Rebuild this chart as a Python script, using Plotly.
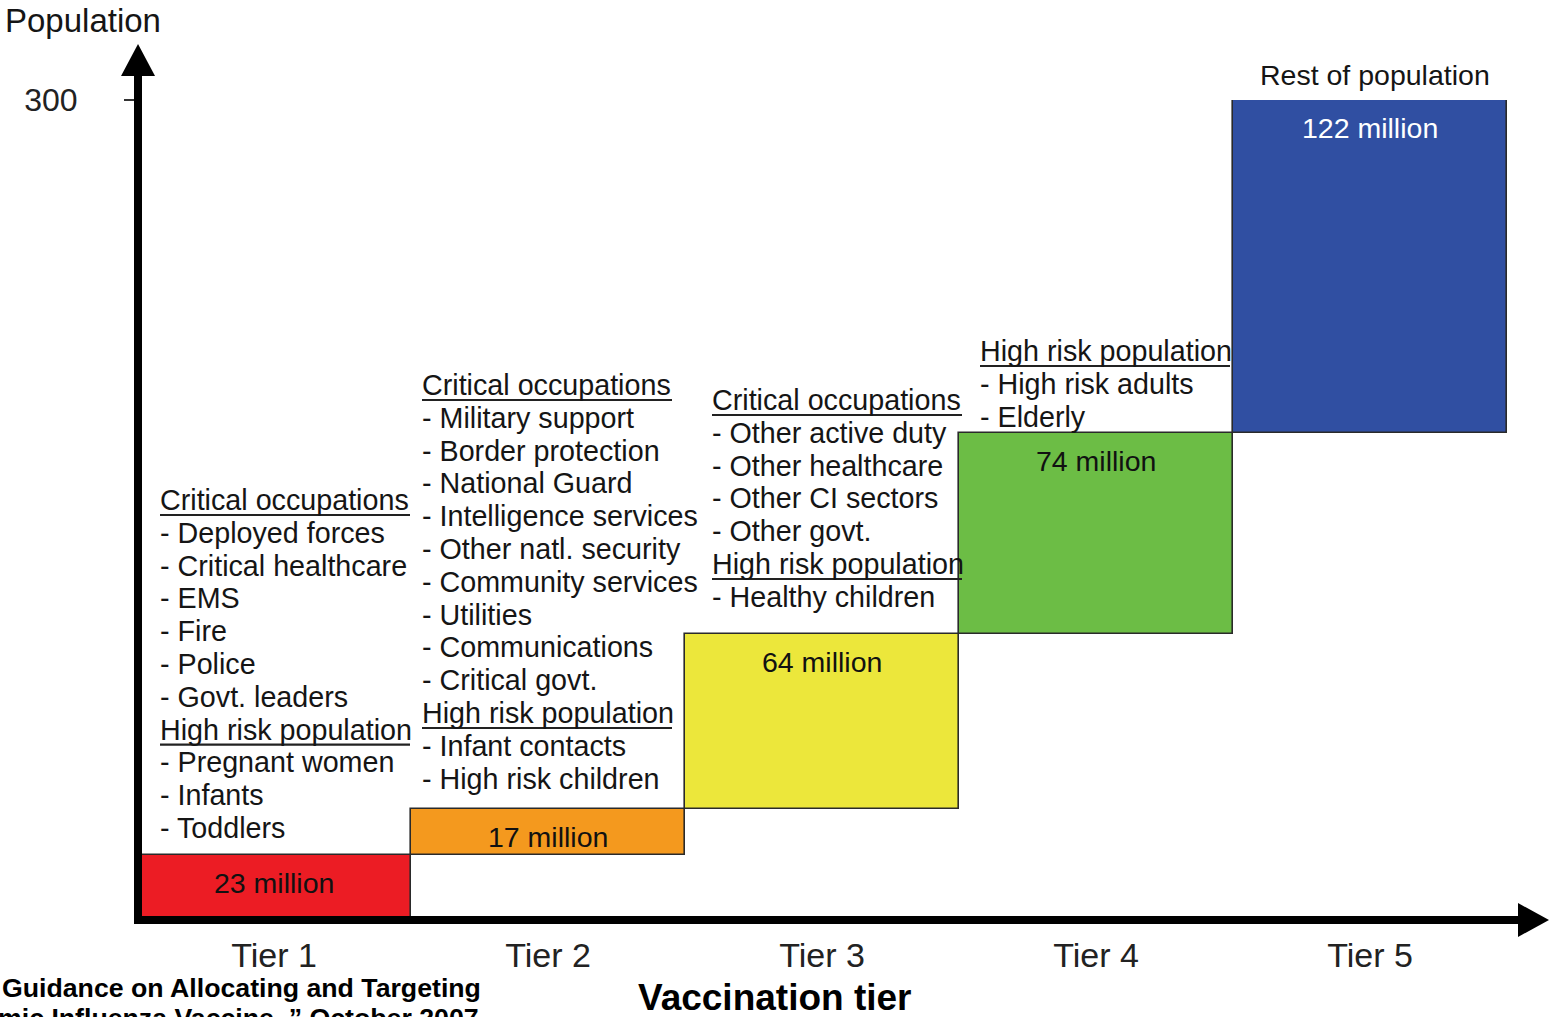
import plotly.graph_objects as go

# ---------------- data ----------------
tiers = ["Tier 1", "Tier 2", "Tier 3", "Tier 4", "Tier 5"]
pop_millions = [23, 17, 64, 74, 122]
bar_colors = ["#EC1C24", "#F4991E", "#ECE73B", "#6CBD45", "#304FA2"]
label_colors = ["#111111", "#111111", "#111111", "#111111", "#FFFFFF"]

tier1_critical = ["Deployed forces", "Critical healthcare", "EMS", "Fire", "Police", "Govt. leaders"]
tier1_highrisk = ["Pregnant women", "Infants", "Toddlers"]
tier2_critical = ["Military support", "Border protection", "National Guard", "Intelligence services",
                  "Other natl. security", "Community services", "Utilities", "Communications",
                  "Critical govt."]
tier2_highrisk = ["Infant contacts", "High risk children"]
tier3_critical = ["Other active duty", "Other healthcare", "Other CI sectors", "Other govt."]
tier3_highrisk = ["Healthy children"]
tier4_critical = []
tier4_highrisk = ["High risk adults", "Elderly"]
tier5_note = "Rest of population"

y_tick_vals = [300]
y_title = "Population"
x_title = "Vaccination tier"
source_line1 = "Guidance on Allocating and Targeting"
source_line2 = "mic Influenza Vaccine ,\u201d October 2007"

# ---------------- layout geometry ----------------
W, H = 1550, 1017
L, R, T, B = 137, 43, 100, 99
PW, PH = W - L - R, H - T - B
FONT = "Liberation Sans, Arial, sans-serif"
TXT = "#151515"


def pxp(px):
    return (px - L) / PW


def pyp(py):
    return (H - B - py) / PH


bases = []
acc = 0
for v in pop_millions:
    bases.append(acc)
    acc += v

fig = go.Figure()
fig.add_trace(go.Bar(
    x=tiers, y=pop_millions, base=bases,
    marker=dict(color=bar_colors, line=dict(color="#2a2a2a", width=1.6)),
    width=1, hoverinfo="skip",
))

annotations = []
shapes = []
# bar value labels
for t, b, v, c in zip(tiers, bases, pop_millions, label_colors):
    annotations.append(dict(
        x=t, y=b + v, xref="x", yref="y", yanchor="top", yshift=-10,
        text=f"{v} million", showarrow=False,
        font=dict(family=FONT, size=28.5, color=c),
    ))

# text blocks
LINE = 32.8
UNDER_W = 250
blocks = [
    (160, 500, tier1_critical, tier1_highrisk),
    (422, 385, tier2_critical, tier2_highrisk),
    (712, 400, tier3_critical, tier3_highrisk),
    (980, 351, tier4_critical, tier4_highrisk),
]
for left, top, crit, high in blocks:
    lines = []
    if crit:
        lines.append(("Critical occupations", True))
        lines += [("- " + s, False) for s in crit]
    if high:
        lines.append(("High risk population", True))
        lines += [("- " + s, False) for s in high]
    for i, (s, hdr) in enumerate(lines):
        yc = top + i * LINE
        annotations.append(dict(
            x=pxp(left - 2), y=pyp(yc), xref="paper", yref="paper",
            xanchor="left", yanchor="middle", text=s, showarrow=False,
            font=dict(family=FONT, size=28.7, color=TXT),
        ))
        if hdr:
            shapes.append(dict(
                type="line", xref="paper", yref="paper",
                x0=pxp(left), x1=pxp(left + UNDER_W), y0=pyp(yc + 15), y1=pyp(yc + 15),
                line=dict(color="#222222", width=2.2),
            ))

annotations.append(dict(
    x=tiers[4], y=sum(pop_millions), xref="x", yref="y", yanchor="bottom", yshift=7, xshift=5,
    text=tier5_note, showarrow=False, font=dict(family=FONT, size=28.5, color=TXT),
))
annotations.append(dict(
    x=pxp(3), y=pyp(20), xref="paper", yref="paper", xanchor="left", yanchor="middle",
    text=y_title, showarrow=False, font=dict(family=FONT, size=33, color=TXT),
))
annotations.append(dict(
    x=pxp(775), y=pyp(997), xref="paper", yref="paper", xanchor="center", yanchor="middle",
    text=f"<b>{x_title}</b>", showarrow=False, font=dict(family=FONT, size=37, color="#000000"),
))
annotations.append(dict(
    x=pxp(0), y=pyp(988), xref="paper", yref="paper", xanchor="left", yanchor="middle",
    text=f"<b>{source_line1}</b>", showarrow=False, font=dict(family=FONT, size=26.7, color="#000000"),
))
annotations.append(dict(
    x=pxp(-4), y=pyp(1018), xref="paper", yref="paper", xanchor="left", yanchor="middle",
    text=f"<b>{source_line2}</b>", showarrow=False, font=dict(family=FONT, size=26.7, color="#000000"),
))

shapes += [
    # y axis shaft + head
    dict(type="line", xref="paper", yref="paper", x0=pxp(138), x1=pxp(138),
         y0=pyp(924), y1=pyp(72), line=dict(color="#000000", width=8)),
    dict(type="path", xref="paper", yref="paper",
         path=f"M {pxp(121)} {pyp(76)} L {pxp(155)} {pyp(76)} L {pxp(138)} {pyp(44)} Z",
         fillcolor="#000000", line=dict(width=0)),
    # x axis shaft + head
    dict(type="line", xref="paper", yref="paper", x0=pxp(134), x1=pxp(1522),
         y0=pyp(920), y1=pyp(920), line=dict(color="#000000", width=8)),
    dict(type="path", xref="paper", yref="paper",
         path=f"M {pxp(1518)} {pyp(903)} L {pxp(1518)} {pyp(937)} L {pxp(1549)} {pyp(920)} Z",
         fillcolor="#000000", line=dict(width=0)),
]

fig.update_layout(
    width=W, height=H,
    margin=dict(l=L, r=R, t=T, b=B, pad=0),
    paper_bgcolor="white", plot_bgcolor="white",
    showlegend=False, bargap=0,
    annotations=annotations, shapes=shapes,
    xaxis=dict(range=[-0.5, 4.5], showgrid=False, zeroline=False, showline=False,
               ticks="", tickfont=dict(family=FONT, size=34, color="#222222"),
               ticklabelstandoff=14, fixedrange=True),
    yaxis=dict(range=[0, 300], tickvals=y_tick_vals, showgrid=False, zeroline=False,
               showline=False, ticks="outside", ticklen=12, tickwidth=1.5, tickcolor="#333333",
               tickfont=dict(family=FONT, size=32, color="#222222"),
               ticklabelstandoff=40, fixedrange=True),
)

fig.write_html(
    "out.html",
    config={"displayModeBar": False},
    post_script="document.body.style.margin='0px';document.body.style.overflow='hidden';",
)
